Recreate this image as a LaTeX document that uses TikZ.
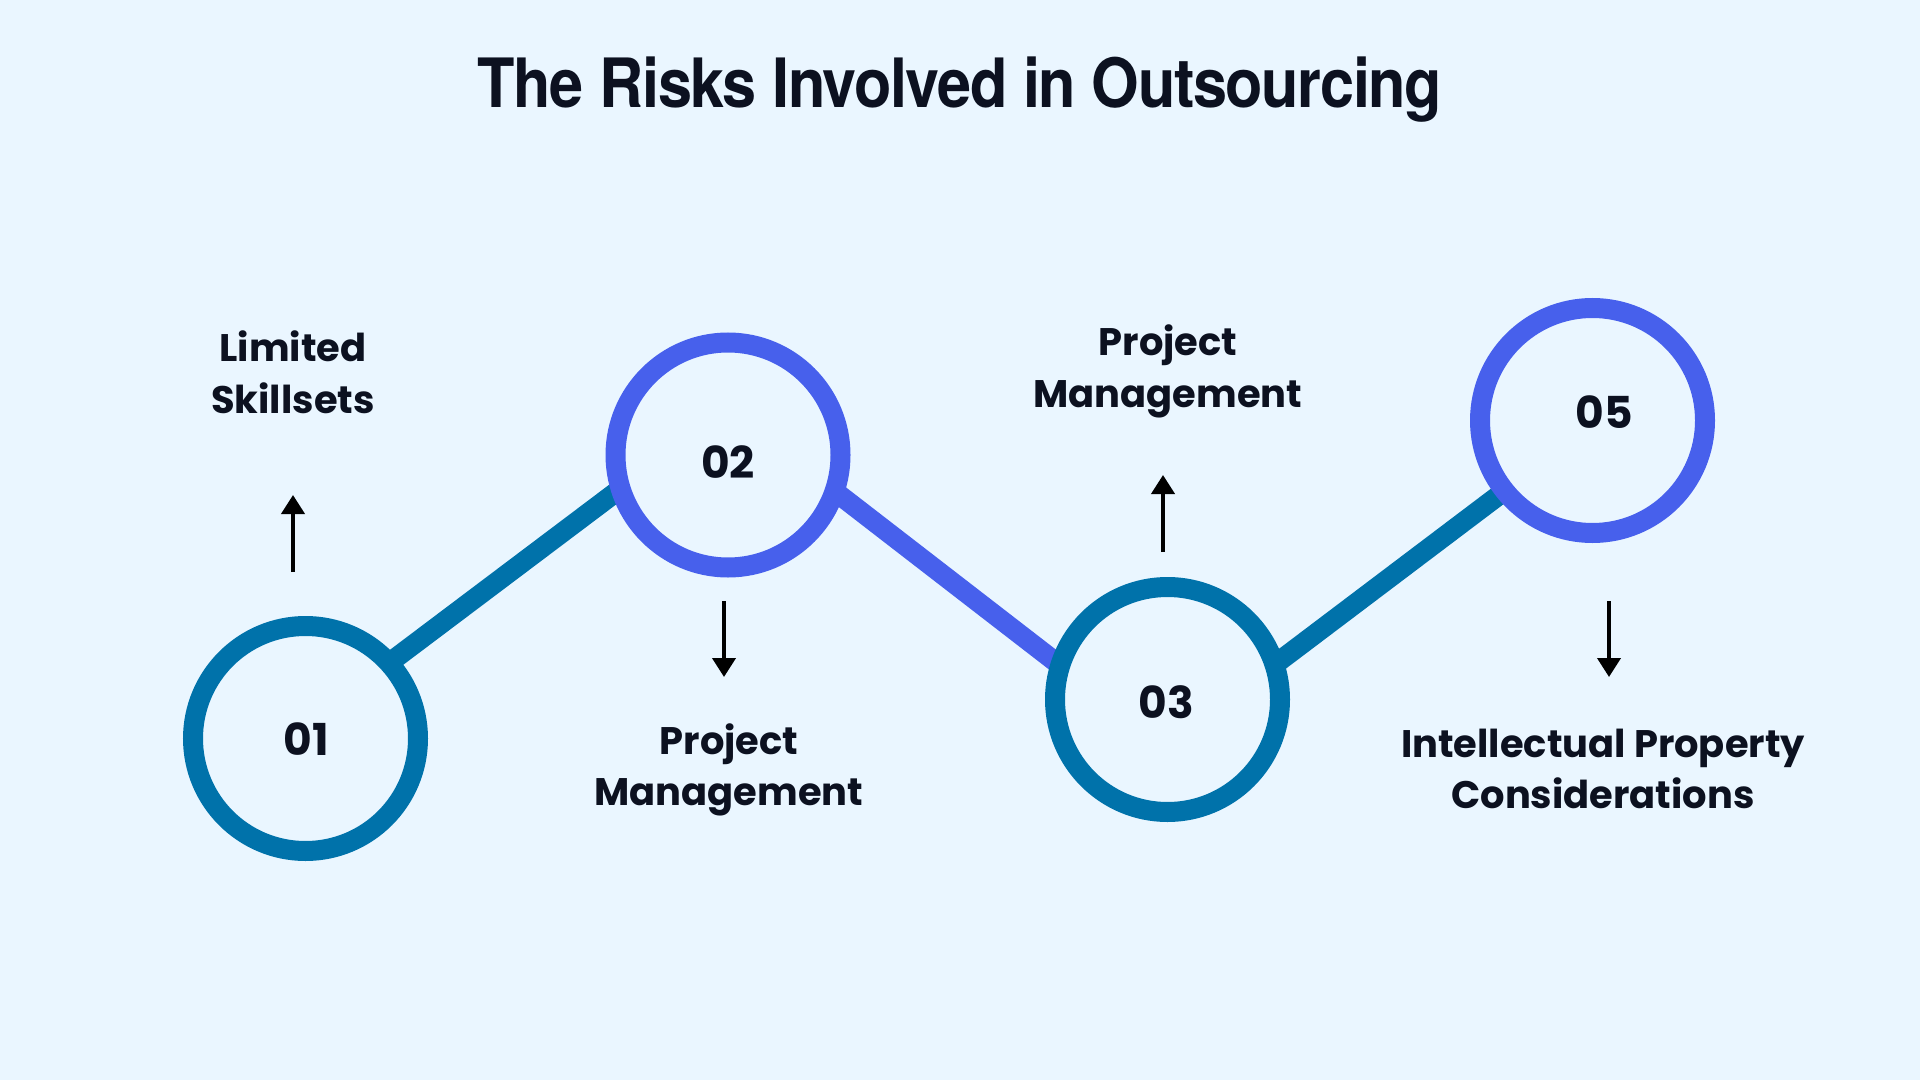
\documentclass[tikz,border=0pt]{standalone}
\usepackage{fontspec}
\usetikzlibrary{arrows.meta}
\setmainfont{Poppins}
\newfontfamily\titlefont{TeX Gyre Heros}[FakeStretch=0.9,LetterSpace=-2]
\definecolor{bgc}{HTML}{EAF6FF}
\definecolor{cteal}{HTML}{0072AA}
\definecolor{cblue}{HTML}{4760EC}
\definecolor{ink}{HTML}{0C1120}
\tikzset{
  ring/.style={circle, draw=#1, fill=bgc, line width=10pt, minimum size=112.5pt, inner sep=0pt},
  link/.style={draw=#1, line width=10pt},
  numtxt/.style={anchor=base, inner sep=0pt, text=ink, font=\fontsize{22}{26}\selectfont\bfseries},
  labtxt/.style={anchor=base, inner sep=0pt, text=ink, align=center, font=\fontsize{19.2}{25.5}\selectfont\bfseries},
  pointer/.style={draw=black, line width=2pt, -{Triangle[width=11.5pt,length=9.5pt]}},
}
\begin{document}
\begin{tikzpicture}[x=0.5pt,y=-0.5pt]
\fill[bgc] (0,0) rectangle (1920,1080);
\useasboundingbox (0,0) rectangle (1920,1080);

% title
\node[anchor=base, inner sep=0pt, text=ink, font=\titlefont\fontsize{34}{40}\selectfont\bfseries] (title) at (960,108) {The Risks Involved in Outsourcing};

% connector end points (hidden under the rings)
\coordinate (s1a) at (320,715);
\coordinate (s1b) at (640,474);
\coordinate (s2a) at (780,449);
\coordinate (s2b) at (1110,704);
\coordinate (s3a) at (1200,721);
\coordinate (s3b) at (1560,449);
\draw[link=cteal] (s1a) -- (s1b);
\draw[link=cblue] (s2a) -- (s2b);
\draw[link=cteal] (s3a) -- (s3b);

% rings
\node[ring=cteal] (c1) at (305.5,738.5) {};
\node[ring=cblue] (c2) at (728,455) {};
\node[ring=cteal] (c3) at (1167.5,699.5) {};
\node[ring=cblue] (c5) at (1592.5,420.5) {};

% numbers
\node[numtxt] (n1) at (306,755) {01};
\node[numtxt] (n2) at (728,478) {02};
\node[numtxt] (n3) at (1166,718) {03};
\node[numtxt] (n5) at (1604,428) {05};

% arrows
\coordinate (a1t) at (293,572); \coordinate (a1h) at (293,495);
\coordinate (a2t) at (724,601); \coordinate (a2h) at (724,677);
\coordinate (a3t) at (1163,552); \coordinate (a3h) at (1163,475);
\coordinate (a5t) at (1609,601); \coordinate (a5h) at (1609,677);
\draw[pointer] (a1t) -- (a1h);
\draw[pointer] (a2t) -- (a2h);
\draw[pointer] (a3t) -- (a3h);
\draw[pointer] (a5t) -- (a5h);

% labels (anchor = baseline of the last line)
\node[labtxt] (l1) at (293,413) {Limited\\Skillsets};
\node[labtxt] (l2) at (729,805) {Project\\Management};
\node[labtxt] (l3) at (1168,407) {Project\\Management};
\node[labtxt] (l5) at (1603,808) {Intellectual Property\\Considerations};
\end{tikzpicture}
\end{document}
